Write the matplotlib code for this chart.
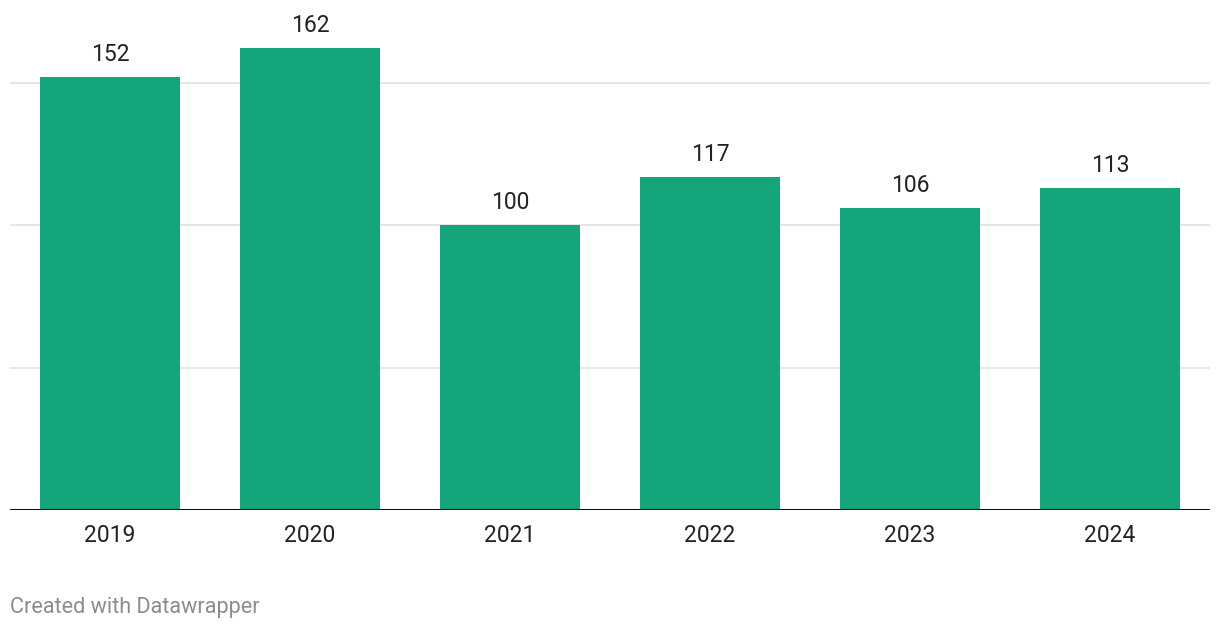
import matplotlib
matplotlib.use("Agg")
import matplotlib.pyplot as plt

years = ["2019", "2020", "2021", "2022", "2023", "2024"]
values = [152, 162, 100, 117, 106, 113]
gridlines = [50, 100, 150]

plt.rcParams['font.family'] = ['Roboto', 'DejaVu Sans']

W, H = 1220, 630
fig = plt.figure(figsize=(W / 100, H / 100), dpi=100)
fig.patch.set_facecolor('white')

# axes box in pixels: x 10..1210, y 10..510 (from top)
ax = fig.add_axes([10 / W, (H - 510) / H, 1200 / W, 500 / H])
ax.set_facecolor('white')

x = list(range(len(years)))
ax.bar(x, values, width=0.7, color='#14a57a', zorder=2)

for g in gridlines:
    ax.axhline(g, color='#e4e4e4', linewidth=1.3, zorder=1)
ax.axhline(0, color='#111111', linewidth=2.2, zorder=3)

for xi, v in zip(x, values):
    ax.annotate(str(v), (xi, v), xytext=(0, 11), textcoords='offset pixels',
                ha='center', va='bottom', fontsize=16.5, color='#222222')

ax.set_xlim(-0.5, len(years) - 0.5)
ax.set_ylim(0, 500 / 2.85)
ax.set_xticks(x)
ax.set_xticklabels(years, fontsize=16.5, color='#222222')
ax.tick_params(axis='x', length=0, pad=10)
ax.set_yticks([])
for s in ax.spines.values():
    s.set_visible(False)

fig.text(10 / W, 1 - 607 / H, "Created with Datawrapper", ha='left', va='center',
         fontsize=15.6, color='#8c8c8c')

fig.savefig("out.png", dpi=100, facecolor='white')
